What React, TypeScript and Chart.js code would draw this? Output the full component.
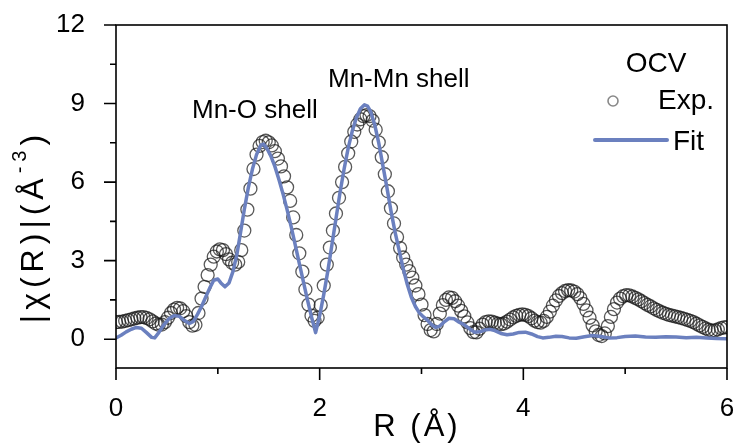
import React, { useEffect, useRef } from "react";
import { Chart, registerables } from "chart.js";

Chart.register(...registerables);

// ---------- data ----------
const R_STEP = 0.03; // Å, spacing of the experimental R grid (starts at 0)

const EXP_CHI = [
  0.65, 0.66, 0.67, 0.70, 0.73, 0.76, 0.79, 0.82, 0.84, 0.84,
  0.81, 0.76, 0.68, 0.60, 0.55, 0.56, 0.65, 0.82, 1.00, 1.13,
  1.20, 1.18, 1.07, 0.88, 0.65, 0.52, 0.55, 1.00, 1.55, 2.00,
  2.45, 2.85, 3.15, 3.35, 3.43, 3.40, 3.25, 3.05, 2.92, 2.85,
  2.95, 3.40, 4.15, 4.95, 5.75, 6.50, 7.05, 7.38, 7.53, 7.58,
  7.52, 7.40, 7.18, 6.90, 6.60, 6.22, 5.80, 5.28, 4.65, 3.98,
  3.28, 2.58, 1.90, 1.32, 0.90, 0.70, 0.82, 1.30, 2.05, 2.85,
  3.50, 4.15, 4.80, 5.40, 6.00, 6.58, 7.10, 7.55, 7.92, 8.20,
  8.40, 8.52, 8.56, 8.52, 8.35, 8.00, 7.52, 6.95, 6.30, 5.65,
  5.00, 4.42, 3.90, 3.48, 3.12, 2.85, 2.60, 2.35, 2.05, 1.72,
  1.32, 0.92, 0.58, 0.35, 0.30, 0.58, 0.98, 1.30, 1.50, 1.60,
  1.58, 1.45, 1.28, 1.08, 0.87, 0.64, 0.42, 0.27, 0.26, 0.40,
  0.56, 0.65, 0.68, 0.67, 0.63, 0.59, 0.57, 0.60, 0.67, 0.75,
  0.83, 0.89, 0.93, 0.95, 0.93, 0.88, 0.80, 0.71, 0.65, 0.63,
  0.70, 0.85, 1.05, 1.28, 1.48, 1.65, 1.76, 1.84, 1.87, 1.86,
  1.82, 1.72, 1.57, 1.35, 1.10, 0.82, 0.53, 0.30, 0.16, 0.12,
  0.22, 0.50, 0.85, 1.15, 1.40, 1.55, 1.64, 1.68, 1.67, 1.63,
  1.58, 1.52, 1.45, 1.38, 1.31, 1.25, 1.18, 1.12, 1.06, 1.01,
  0.97, 0.93, 0.90, 0.87, 0.84, 0.81, 0.78, 0.74, 0.70, 0.65,
  0.59, 0.53, 0.47, 0.41, 0.36, 0.33, 0.34, 0.37, 0.42, 0.45,
  0.46,
];
const EXP_R = EXP_CHI.map((_, i) => +(i * R_STEP).toFixed(2));

const FIT_R = [
  0.00, 0.05, 0.10, 0.15, 0.20, 0.25, 0.30, 0.35, 0.38, 0.42,
  0.47, 0.52, 0.57, 0.62, 0.67, 0.72, 0.76, 0.80, 0.84, 0.88,
  0.92, 0.96, 1.00, 1.03, 1.07, 1.11, 1.15, 1.19, 1.22, 1.26,
  1.30, 1.34, 1.38, 1.42, 1.45, 1.48, 1.52, 1.56, 1.60, 1.64,
  1.68, 1.72, 1.76, 1.80, 1.84, 1.88, 1.92, 1.96, 2.00, 2.04,
  2.08, 2.12, 2.16, 2.20, 2.24, 2.28, 2.32, 2.36, 2.40, 2.44,
  2.47, 2.50, 2.54, 2.58, 2.62, 2.66, 2.70, 2.74, 2.78, 2.82,
  2.86, 2.90, 2.94, 2.98, 3.02, 3.06, 3.10, 3.14, 3.18, 3.22,
  3.27, 3.32, 3.37, 3.42, 3.47, 3.52, 3.57, 3.62, 3.67, 3.72,
  3.78, 3.84, 3.90, 3.96, 4.02, 4.08, 4.14, 4.19, 4.25, 4.32,
  4.38, 4.45, 4.52, 4.60, 4.68, 4.76, 4.84, 4.92, 5.00, 5.10,
  5.20, 5.30, 5.40, 5.50, 5.60, 5.70, 5.80, 5.90, 6.00,
];
const FIT_CHI = [
  0.05, 0.15, 0.28, 0.38, 0.45, 0.42, 0.25, 0.07, 0.05, 0.25,
  0.55, 0.78, 0.90, 0.88, 0.72, 0.60, 0.68, 0.95, 1.25, 1.60,
  1.95, 2.25, 2.30, 2.15, 2.00, 2.15, 2.60, 3.30, 4.00, 4.95,
  5.80, 6.50, 7.05, 7.40, 7.45, 7.30, 7.00, 6.60, 6.10, 5.55,
  4.95, 4.30, 3.60, 2.90, 2.20, 1.50, 0.85, 0.25, 0.90, 1.70,
  2.60, 3.60, 4.60, 5.60, 6.50, 7.30, 7.95, 8.45, 8.80, 8.95,
  8.90, 8.70, 8.20, 7.50, 6.65, 5.80, 4.90, 4.10, 3.40, 2.70,
  2.10, 1.60, 1.25, 1.00, 0.85, 0.72, 0.55, 0.45, 0.50, 0.65,
  0.80, 0.78, 0.65, 0.55, 0.40, 0.27, 0.28, 0.35, 0.38, 0.33,
  0.22, 0.17, 0.20, 0.26, 0.27, 0.20, 0.10, 0.05, 0.07, 0.11,
  0.10, 0.05, 0.04, 0.09, 0.14, 0.10, 0.05, 0.06, 0.10, 0.12,
  0.08, 0.07, 0.09, 0.08, 0.06, 0.07, 0.05, 0.03, 0.02,
];

const X_TICKS = [0, 1, 2, 3, 4, 5, 6];
const X_LABELS = [0, 2, 4, 6];
const Y_TICKS = [0, 1.5, 3, 4.5, 6, 7.5, 9, 10.5, 12];
const Y_LABELS = [0, 3, 6, 9, 12];

const X_MIN = 0;
const X_MAX = 6;
const Y_MIN = -1.1;
const Y_MAX = 12;

const LEGEND_TITLE = "OCV";
const EXP_LABEL = "Exp.";
const FIT_LABEL = "Fit";
const PEAK1_LABEL = "Mn-O shell";
const PEAK2_LABEL = "Mn-Mn shell";
const X_TITLE = "R (Å)";

// ---------- styles ----------
const FONT = "'Liberation Sans', Arial, Helvetica, sans-serif";
const FIT_COLOR = "#6b80bf";
const EXP_COLOR = "rgba(25,25,25,0.72)";

function drawSpaced(ctx: CanvasRenderingContext2D, text: string, x: number, y: number, spacing: number) {
  let cx = x;
  for (const ch of text) {
    ctx.fillText(ch, cx, y);
    cx += ctx.measureText(ch).width + spacing;
  }
  return cx;
}
function spacedWidth(ctx: CanvasRenderingContext2D, text: string, spacing: number) {
  let w = 0;
  for (const ch of text) w += ctx.measureText(ch).width + spacing;
  return w;
}

const decorPlugin = {
  id: "decor",
  afterDraw(chart: any) {
    const { ctx, chartArea: a, scales } = chart;
    const x = scales.x;
    const y = scales.y;
    ctx.save();
    // frame
    ctx.strokeStyle = "#000";
    ctx.lineWidth = 1.6;
    ctx.strokeRect(a.left, a.top, a.right - a.left, a.bottom - a.top);
    // ticks
    ctx.beginPath();
    for (const v of Y_TICKS) {
      const py = y.getPixelForValue(v);
      const len = Y_LABELS.includes(v) ? 12 : 6;
      ctx.moveTo(a.left, py);
      ctx.lineTo(a.left - len, py);
    }
    for (const v of X_TICKS) {
      const px = x.getPixelForValue(v);
      const len = X_LABELS.includes(v) ? 12 : 6;
      ctx.moveTo(px, a.bottom);
      ctx.lineTo(px, a.bottom + len);
    }
    ctx.stroke();

    ctx.fillStyle = "#000";
    ctx.textBaseline = "alphabetic";

    // x title
    ctx.font = `31px ${FONT}`;
    const xs = 3;
    const xw = spacedWidth(ctx, X_TITLE, xs) - xs;
    drawSpaced(ctx, X_TITLE, (a.left + a.right) / 2 - xw / 2 - 6, 436, xs);

    // y title (rotated) |χ(R)|(Å^-3)
    ctx.save();
    ctx.translate(34, 229);
    ctx.rotate(-Math.PI / 2);
    const sp = 5;
    const parts = [
      { t: "|χ(R)|(", f: 32, dy: 0 },
      { t: "Å", f: 32, dy: 0 },
      { t: "-3", f: 20, dy: -17 },
      { t: ")", f: 32, dy: 0 },
    ];
    let total = 0;
    for (const p of parts) {
      ctx.font = `${p.f}px ${FONT}`;
      total += spacedWidth(ctx, p.t, sp);
    }
    total -= sp;
    let cx = -total / 2;
    for (const p of parts) {
      ctx.font = `${p.f}px ${FONT}`;
      cx = drawSpaced(ctx, p.t, cx, 9 + p.dy, sp);
    }
    ctx.restore();

    // peak annotations
    ctx.font = `26px ${FONT}`;
    ctx.textAlign = "left";
    ctx.fillText(PEAK1_LABEL, 192, 118);
    ctx.fillText(PEAK2_LABEL, 328, 87);

    // legend
    ctx.font = `28px ${FONT}`;
    ctx.textAlign = "center";
    ctx.fillText(LEGEND_TITLE, 656, 72);
    ctx.textAlign = "left";
    ctx.fillText(EXP_LABEL, 658, 109);
    ctx.fillText(FIT_LABEL, 673, 150);
    ctx.beginPath();
    ctx.strokeStyle = "#888";
    ctx.lineWidth = 1.6;
    ctx.arc(613, 101, 5, 0, Math.PI * 2);
    ctx.stroke();
    ctx.beginPath();
    ctx.strokeStyle = FIT_COLOR;
    ctx.lineWidth = 4;
    ctx.lineCap = "round";
    ctx.moveTo(595, 140);
    ctx.lineTo(667, 140);
    ctx.stroke();

    ctx.restore();
  },
};

export default function App() {
  const canvasRef = useRef<HTMLCanvasElement | null>(null);

  useEffect(() => {
    document.body.style.margin = "0";
    const canvas = canvasRef.current;
    if (!canvas) return;
    const chart = new Chart(canvas, {
      type: "scatter",
      data: {
        datasets: [
          {
            label: FIT_LABEL,
            data: FIT_R.map((r, i) => ({ x: r, y: FIT_CHI[i] })),
            showLine: true,
            borderColor: FIT_COLOR,
            borderWidth: 3.5,
            pointRadius: 0,
            tension: 0,
            borderJoinStyle: "round",
            borderCapStyle: "round",
            order: 1,
            clip: 0,
          } as any,
          {
            label: EXP_LABEL,
            data: EXP_R.map((r, i) => ({ x: r, y: EXP_CHI[i] })),
            showLine: false,
            pointRadius: 6.5,
            pointBorderWidth: 1.3,
            pointBorderColor: EXP_COLOR,
            pointBackgroundColor: "rgba(0,0,0,0)",
            order: 2,
            clip: 0,
          } as any,
        ],
      },
      options: {
        animation: false,
        responsive: false,
        devicePixelRatio: 1,
        layout: { padding: { top: 25, right: 13, left: 0, bottom: 0 } },
        plugins: {
          legend: { display: false },
          tooltip: { enabled: false },
        },
        events: [],
        scales: {
          x: {
            type: "linear",
            min: X_MIN,
            max: X_MAX,
            afterBuildTicks: (s: any) => {
              s.ticks = X_TICKS.map((v) => ({ value: v }));
            },
            afterFit: (s: any) => {
              s.height = 76;
              s.paddingLeft = 0;
              s.paddingRight = 0;
            },
            grid: { display: false },
            border: { display: false },
            ticks: {
              autoSkip: false,
              maxRotation: 0,
              padding: 17,
              color: "#000",
              font: { family: FONT, size: 26 },
              callback: (v: any) => (X_LABELS.includes(Number(v)) ? String(v) : ""),
            },
          },
          y: {
            type: "linear",
            min: Y_MIN,
            max: Y_MAX,
            afterBuildTicks: (s: any) => {
              s.ticks = Y_TICKS.map((v) => ({ value: v }));
            },
            afterFit: (s: any) => {
              s.width = 116;
              s.paddingTop = 0;
              s.paddingBottom = 0;
            },
            grid: { display: false },
            border: { display: false },
            ticks: {
              autoSkip: false,
              padding: 23,
              color: "#000",
              font: { family: FONT, size: 26 },
              callback: (v: any) => (Y_LABELS.includes(Number(v)) ? String(v) : ""),
            },
          },
        },
      },
      plugins: [decorPlugin],
    });
    return () => chart.destroy();
  }, []);

  return (
    <div style={{ width: 740, height: 444, position: "relative", background: "#fff" }}>
      <canvas ref={canvasRef} width={740} height={444} style={{ width: 740, height: 444, display: "block" }} />
    </div>
  );
}
